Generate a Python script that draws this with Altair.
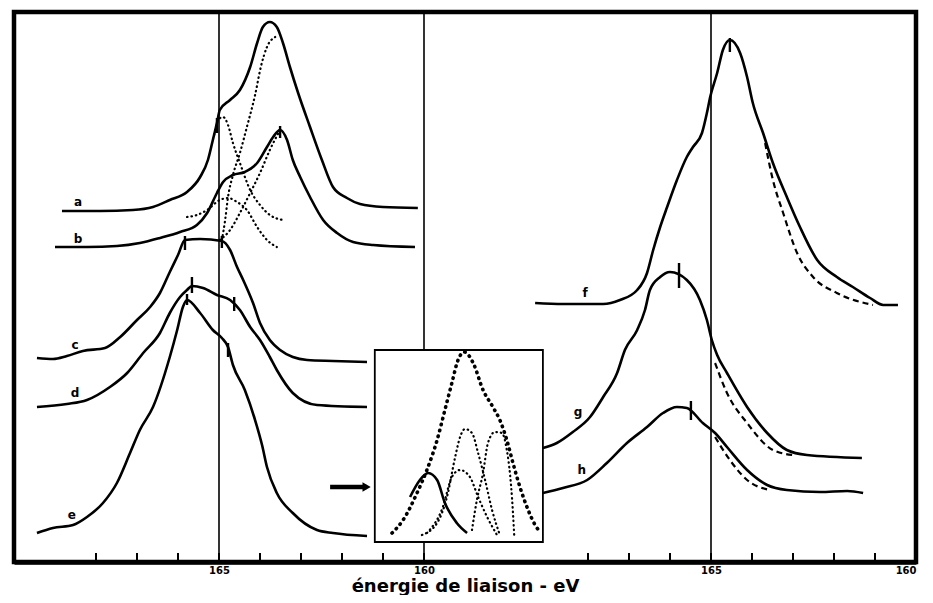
import altair as alt
import pandas as pd

# ---------------------------------------------------------------
# Energy origins of the two panels (binding energy at left edge)
LEFT_ORIGIN = 170.0
RIGHT_ORIGIN = 182.0

# ---------------- left panel spectra (eV, arbitrary intensity) ----
a_E = [168.83, 167.90, 167.10, 166.61, 166.20, 165.78, 165.46, 165.27, 165.15, 165.05, 164.98, 164.73,
       164.49, 164.24, 164.07, 163.93, 163.76, 163.59, 163.44, 163.27, 163.07, 162.78, 162.49, 162.22,
       161.88, 161.56, 161.00, 160.15]
a_I = [351, 351, 352, 355, 362, 370, 385, 402, 422, 439, 452, 462,
       472, 495, 519, 535, 540, 535, 519, 495, 469, 435, 402, 375,
       364, 358, 355, 354]

b_E = [169.00, 168.22, 167.49, 166.93, 166.44, 165.95, 165.54, 165.29, 165.05, 164.90, 164.66, 164.37,
       164.07, 163.83, 163.68, 163.51, 163.34, 163.20, 163.02, 162.78, 162.46, 162.12, 161.73, 161.24, 160.22]
b_I = [315, 315, 316, 319, 324, 330, 337, 349, 369, 380, 387, 390,
       399, 415, 425, 432, 422, 402, 385, 365, 342, 329, 320, 317, 315]

c_E = [169.44, 169.05, 168.71, 168.32, 167.78, 167.41, 167.00, 166.68, 166.44, 166.20, 166.00, 165.83,
       165.46, 164.93, 164.73, 164.56, 164.41, 164.17, 164.00, 163.76, 163.51, 163.20, 162.85, 162.22, 161.39]
c_I = [204, 203, 206, 211, 214, 225, 242, 255, 269, 290, 307, 322,
       323, 321, 312, 295, 282, 259, 239, 222, 212, 205, 202, 201, 200]

d_E = [169.44, 168.71, 168.22, 167.66, 167.24, 166.85, 166.44, 166.20, 165.95, 165.78, 165.66, 165.39,
       165.05, 164.73, 164.49, 164.24, 164.00, 163.76, 163.59, 163.20, 162.61, 161.39]
d_I = [155, 158, 162, 175, 189, 209, 229, 249, 265, 272, 276, 274,
       267, 262, 252, 235, 222, 205, 192, 169, 157, 155]

e_E = [169.44, 169.05, 168.56, 168.22, 167.83, 167.49, 167.17, 166.93, 166.61, 166.20, 166.02, 165.88,
       165.78, 165.46, 165.15, 164.93, 164.78, 164.66, 164.37, 164.12, 163.95, 163.83, 163.59, 163.20,
       162.61, 162.22, 161.39]
e_I = [29, 34, 37, 45, 59, 79, 109, 132, 155, 205, 232, 255,
       262, 249, 232, 224, 215, 197, 172, 142, 117, 95, 69, 49,
       32, 29, 26]

# dotted decomposition components of a and b
a1_E = [165.12, 165.02, 164.90, 164.78, 164.66, 164.49, 164.24, 164.00, 163.76, 163.44]
a1_I = [427, 442, 445, 437, 419, 399, 372, 357, 347, 342]
a2_E = [164.93, 164.85, 164.78, 164.66, 164.49, 164.32, 164.12, 163.98, 163.83, 163.63]
a2_I = [322, 342, 365, 387, 409, 435, 467, 495, 515, 525]
b1_E = [165.78, 165.54, 165.29, 164.98, 164.78, 164.56, 164.32, 164.07, 163.83, 163.59]
b1_I = [345, 347, 352, 362, 364, 360, 352, 335, 322, 315]
b2_E = [164.98, 164.73, 164.49, 164.24, 164.00, 163.76, 163.51]
b2_I = [322, 332, 349, 369, 389, 412, 432]

# ---------------- right panel spectra --------------------------------
f_E = [169.29, 168.61, 167.63, 167.22, 166.80, 166.56, 166.41, 166.24, 166.07, 165.83, 165.59, 165.44,
       165.22, 165.10, 165.02, 164.85, 164.71, 164.54, 164.29, 164.12, 163.98, 163.73, 163.49, 163.15,
       162.83, 162.41, 161.93, 161.54, 161.12, 160.80, 160.44]
f_I = [259, 258, 258, 262, 272, 289, 312, 335, 355, 382, 405, 415,
       429, 449, 465, 489, 512, 522, 509, 485, 459, 429, 399, 365,
       335, 302, 285, 275, 264, 257, 257]
f_fit_E = [163.68, 163.49, 163.24, 162.90, 162.51, 161.93, 161.05]
f_fit_I = [419, 382, 349, 309, 285, 269, 257]

g_E = [169.10, 168.76, 168.37, 167.95, 167.63, 167.29, 167.10, 166.80, 166.61, 166.49, 166.24, 166.00,
       165.59, 165.27, 165.10, 164.98, 164.85, 164.61, 164.12, 163.63, 163.15, 162.66, 161.32]
g_I = [114, 119, 130, 145, 165, 189, 212, 232, 252, 272, 285, 290,
       282, 262, 242, 222, 207, 189, 155, 129, 112, 107, 104]
g_fit_E = [164.90, 164.61, 164.12, 163.49, 163.00]
g_fit_I = [199, 169, 139, 112, 107]

h_E = [169.10, 168.61, 168.02, 167.54, 167.05, 166.56, 166.17, 165.83, 165.59, 165.20, 164.90, 164.61,
       164.12, 163.63, 163.15, 162.34, 161.68, 161.29]
h_I = [69, 74, 82, 99, 119, 135, 149, 155, 154, 139, 129, 115,
       92, 77, 72, 70, 71, 69]
h_fit_E = [164.90, 164.54, 164.12, 163.56]
h_fit_I = [125, 102, 82, 72]

# ---------------- inset (drawn in left-panel energy units) -----------
inset_env_E = [160.78, 160.51, 160.17, 159.93, 159.68, 159.49, 159.32, 159.17, 159.02, 158.80, 158.56,
               158.32, 158.15, 157.98, 157.83, 157.66, 157.46, 157.29, 157.17]
inset_env_I = [29, 42, 69, 92, 122, 152, 179, 202, 210, 199, 172, 155, 142, 122, 99, 75, 52, 37, 30]
inset_s_E = [160.34, 160.10, 159.90, 159.68, 159.49, 159.20, 158.95]
inset_s_I = [65, 82, 89, 82, 59, 39, 29]
inset_p1_E = [160.05, 159.68, 159.44, 159.24, 159.12, 159.00, 158.83, 158.68, 158.51, 158.34, 158.15]
inset_p1_I = [27, 39, 65, 105, 125, 133, 129, 109, 82, 52, 27]
inset_p2_E = [159.93, 159.54, 159.32, 159.12, 158.88, 158.68, 158.46, 158.22]
inset_p2_I = [29, 55, 85, 92, 85, 65, 45, 27]
inset_p3_E = [158.83, 158.71, 158.56, 158.44, 158.27, 158.10, 157.98, 157.90, 157.85, 157.80]
inset_p3_I = [32, 62, 89, 119, 130, 129, 112, 87, 62, 27]
inset_box_E = [161.20, 157.10]
inset_box_I = [20, 212]

# ---------------- peak markers on curves ------------------------------
mark_panel = ["L", "L", "L", "L", "L", "L", "L", "L", "R", "R", "R"]
mark_E = [165.05, 163.51, 165.83, 164.93, 165.66, 164.63, 165.78, 164.78, 164.54, 165.78, 165.49]
mark_lo = [429, 424, 312, 314, 269, 251, 257, 205, 510, 274, 142]
mark_hi = [444, 436, 326, 326, 285, 265, 268, 219, 524, 299, 161]

# curve letters
lab_text = ["a", "b", "c", "d", "e", "f", "g", "h"]
lab_panel = ["L", "L", "L", "L", "L", "R", "R", "R"]
lab_E = [168.44, 168.44, 168.51, 168.51, 168.59, 168.07, 168.24, 168.15]
lab_I = [360, 323, 217, 169, 47, 269, 150, 92]

# reference lines, axis ticks
ref_panel = ["L", "L", "R"]
ref_E = [165, 160, 165]
tick_E = [168, 167, 166, 165, 164, 163, 162, 161, 160]

arrow_E = [162.29, 161.40]
arrow_I = [75, 75]


def to_pos(panel, e):
    return (LEFT_ORIGIN if panel == "L" else RIGHT_ORIGIN) - e


def curve(name, panel, E, I):
    return pd.DataFrame({"pos": [to_pos(panel, e) for e in E], "I": I,
                         "id": name, "idx": list(range(len(E)))})


solid = pd.concat([
    curve("a", "L", a_E, a_I), curve("b", "L", b_E, b_I), curve("c", "L", c_E, c_I),
    curve("d", "L", d_E, d_I), curve("e", "L", e_E, e_I),
    curve("f", "R", f_E, f_I), curve("g", "R", g_E, g_I), curve("h", "R", h_E, h_I),
    curve("is", "L", inset_s_E, inset_s_I),
])
dotted = pd.concat([
    curve("a1", "L", a1_E, a1_I), curve("a2", "L", a2_E, a2_I),
    curve("b1", "L", b1_E, b1_I), curve("b2", "L", b2_E, b2_I),
    curve("p1", "L", inset_p1_E, inset_p1_I), curve("p2", "L", inset_p2_E, inset_p2_I),
    curve("p3", "L", inset_p3_E, inset_p3_I),
])
bigdot = curve("env", "L", inset_env_E, inset_env_I)
dashed = pd.concat([
    curve("ff", "R", f_fit_E, f_fit_I), curve("gf", "R", g_fit_E, g_fit_I),
    curve("hf", "R", h_fit_E, h_fit_I),
])

refs = pd.DataFrame({"pos": [to_pos(p, e) for p, e in zip(ref_panel, ref_E)]})
ticks = pd.DataFrame({"pos": [to_pos("L", e) for e in tick_E] + [to_pos("R", e) for e in tick_E]})
marks = pd.DataFrame({"pos": [to_pos(p, e) for p, e in zip(mark_panel, mark_E)],
                      "lo": mark_lo, "hi": mark_hi})
labels = pd.DataFrame({"pos": [to_pos(p, e) for p, e in zip(lab_panel, lab_E)],
                       "I": lab_I, "t": lab_text})
box = pd.DataFrame({"x1": [to_pos("L", inset_box_E[0])], "x2": [to_pos("L", inset_box_E[1])],
                    "y1": [inset_box_I[0]], "y2": [inset_box_I[1]]})
arrow = pd.DataFrame({"x1": [to_pos("L", arrow_E[0])], "x2": [to_pos("L", arrow_E[1])],
                      "y": [arrow_I[0]]})

Xscale = alt.Scale(domain=[0, 22], nice=False, zero=False)
Yscale = alt.Scale(domain=[0, 550], nice=False, zero=False)
X = alt.X("pos:Q", scale=Xscale,
          axis=alt.Axis(values=[5, 10, 17, 22],
                        labelExpr="(datum.value == 5 || datum.value == 17) ? '165' : '160'",
                        title="énergie de liaison - eV"))
Y = alt.Y("I:Q", scale=Yscale, axis=None)

ref_layer = alt.Chart(refs).mark_rule(color="black", strokeWidth=1.6).encode(
    x=X, y=alt.value(0), y2=alt.value(550))

box_layer = alt.Chart(box).mark_rect(fill="white", stroke="black", strokeWidth=1.8).encode(
    x=alt.X("x1:Q", scale=Xscale), x2="x2:Q",
    y=alt.Y("y1:Q", scale=Yscale, axis=None), y2="y2:Q")

solid_layer = alt.Chart(solid).mark_line(color="black", strokeWidth=2.6, strokeJoin="round",
                                         interpolate="monotone").encode(
    x=X, y=Y, detail="id:N", order="idx:Q")
dotted_layer = alt.Chart(dotted).mark_line(color="black", strokeWidth=2.2, strokeCap="round",
                                           strokeDash=[0.5, 4], interpolate="monotone").encode(
    x=X, y=Y, detail="id:N", order="idx:Q")
bigdot_layer = alt.Chart(bigdot).mark_line(color="black", strokeWidth=3.6, strokeCap="round",
                                           strokeDash=[0.5, 5.5], interpolate="monotone").encode(
    x=X, y=Y, detail="id:N", order="idx:Q")
dashed_layer = alt.Chart(dashed).mark_line(color="black", strokeWidth=2.2,
                                           strokeDash=[6, 4], interpolate="monotone").encode(
    x=X, y=Y, detail="id:N", order="idx:Q")

tick_layer = alt.Chart(ticks).mark_rule(color="black", strokeWidth=2).encode(
    x=X, y=alt.value(541), y2=alt.value(550))

mark_layer = alt.Chart(marks).mark_rule(color="black", strokeWidth=2.4).encode(
    x=X, y=alt.Y("lo:Q", scale=Yscale, axis=None), y2="hi:Q")

label_layer = alt.Chart(labels).mark_text(font="DejaVu Sans", fontWeight="bold", fontSize=12,
                                          color="black", align="center", baseline="middle").encode(
    x=X, y=Y, text="t:N")

arrow_line = alt.Chart(arrow).mark_rule(color="black", strokeWidth=4.5).encode(
    x=alt.X("x1:Q", scale=Xscale), x2="x2:Q",
    y=alt.Y("y:Q", scale=Yscale, axis=None))
arrow_head = alt.Chart(arrow).mark_point(shape="triangle-right", filled=True, color="black",
                                         size=90, opacity=1).encode(
    x=alt.X("x2:Q", scale=Xscale),
    y=alt.Y("y:Q", scale=Yscale, axis=None))

chart = alt.layer(
    ref_layer, box_layer, tick_layer, solid_layer, dotted_layer, bigdot_layer, dashed_layer,
    mark_layer, label_layer, arrow_line, arrow_head
).properties(
    width=902, height=550, autosize="none",
    padding={"left": 6, "top": 4, "right": 9, "bottom": 33},
    background="white",
).configure_view(
    stroke="black", strokeWidth=4.5
).configure_axis(
    domainColor="black", domainWidth=4.5, ticks=False, grid=False,
    labelFont="DejaVu Sans", labelFontWeight="bold", labelFontSize=10, labelColor="black",
    labelPadding=3,
    titleFont="DejaVu Sans", titleFontWeight="bold", titleFontSize=18, titleColor="black",
    titlePadding=2,
)

chart.save("out.html", embed_options={"renderer": "svg", "actions": False})
